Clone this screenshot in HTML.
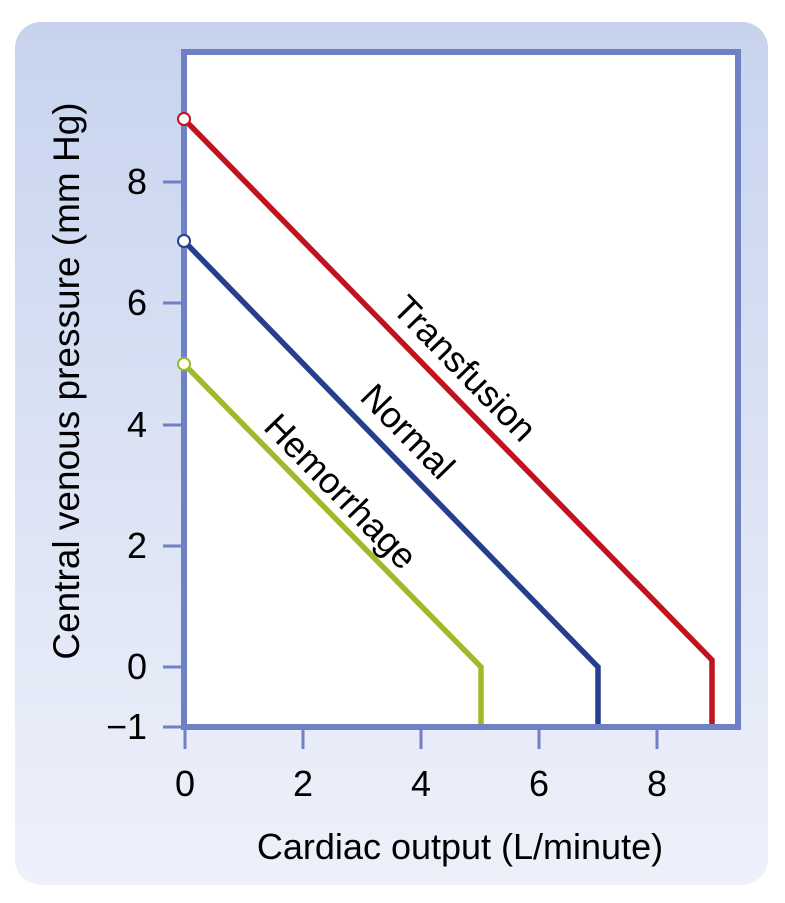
<!DOCTYPE html>
<html><head><style>
body{margin:0;background:#fff;}
svg{display:block;font-family:"Liberation Sans",Arial,sans-serif;}
</style></head><body>
<svg width="785" height="903" viewBox="0 0 785 903">
<defs><linearGradient id="g" x1="0" y1="0" x2="0" y2="1">
<stop offset="0" stop-color="#c7d3ee"/><stop offset="1" stop-color="#eef1fa"/></linearGradient></defs>
<rect x="15" y="22" width="753" height="863" rx="26" fill="url(#g)"/>
<rect x="184" y="52" width="554" height="675" fill="#fff"/>
<g stroke="#6f80c4" stroke-width="3">
<line x1="163" y1="182" x2="184" y2="182"/>
<line x1="163" y1="303" x2="184" y2="303"/>
<line x1="163" y1="425" x2="184" y2="425"/>
<line x1="163" y1="546" x2="184" y2="546"/>
<line x1="163" y1="667" x2="184" y2="667"/>
<line x1="163" y1="727" x2="184" y2="727"/>
<line x1="185" y1="727" x2="185" y2="749"/>
<line x1="303" y1="727" x2="303" y2="749"/>
<line x1="421" y1="727" x2="421" y2="749"/>
<line x1="539" y1="727" x2="539" y2="749"/>
<line x1="657" y1="727" x2="657" y2="749"/>
</g>
<g fill="none" stroke-width="5.5" stroke-linejoin="miter">
<polyline points="184,119 712,660 712,727" stroke="#c0121f"/>
<polyline points="184,241 598,667 598,727" stroke="#263e8e"/>
<polyline points="184,364 481,667 481,727" stroke="#9dba2a"/>
</g>
<path d="M184,727 V52 H738 V727 Z" fill="none" stroke="#6f80c4" stroke-width="6"/>
<circle cx="184" cy="119" r="6" fill="#fff" stroke="#c0121f" stroke-width="2"/>
<circle cx="184" cy="241" r="6" fill="#fff" stroke="#263e8e" stroke-width="2"/>
<circle cx="184" cy="364" r="6" fill="#fff" stroke="#9dba2a" stroke-width="2"/>
<g font-size="36" fill="#000" text-anchor="end">
<text x="147" y="194">8</text>
<text x="147" y="315">6</text>
<text x="147" y="437">4</text>
<text x="147" y="558">2</text>
<text x="147" y="679">0</text>
<text x="147" y="739">−1</text>
</g>
<g font-size="36" fill="#000" text-anchor="middle">
<text x="185" y="796">0</text>
<text x="303" y="796">2</text>
<text x="421" y="796">4</text>
<text x="539" y="796">6</text>
<text x="657" y="796">8</text>
<text x="460" y="859">Cardiac output (L/minute)</text>
<text font-size="37" transform="translate(79,381) rotate(-90)">Central venous pressure (mm Hg)</text>
<text transform="translate(456,377) rotate(45.7)">Transfusion</text>
<text transform="translate(399,440) rotate(45.7)">Normal</text>
<text transform="translate(332,500) rotate(45.7)">Hemorrhage</text>
</g>
</svg>
</body></html>
